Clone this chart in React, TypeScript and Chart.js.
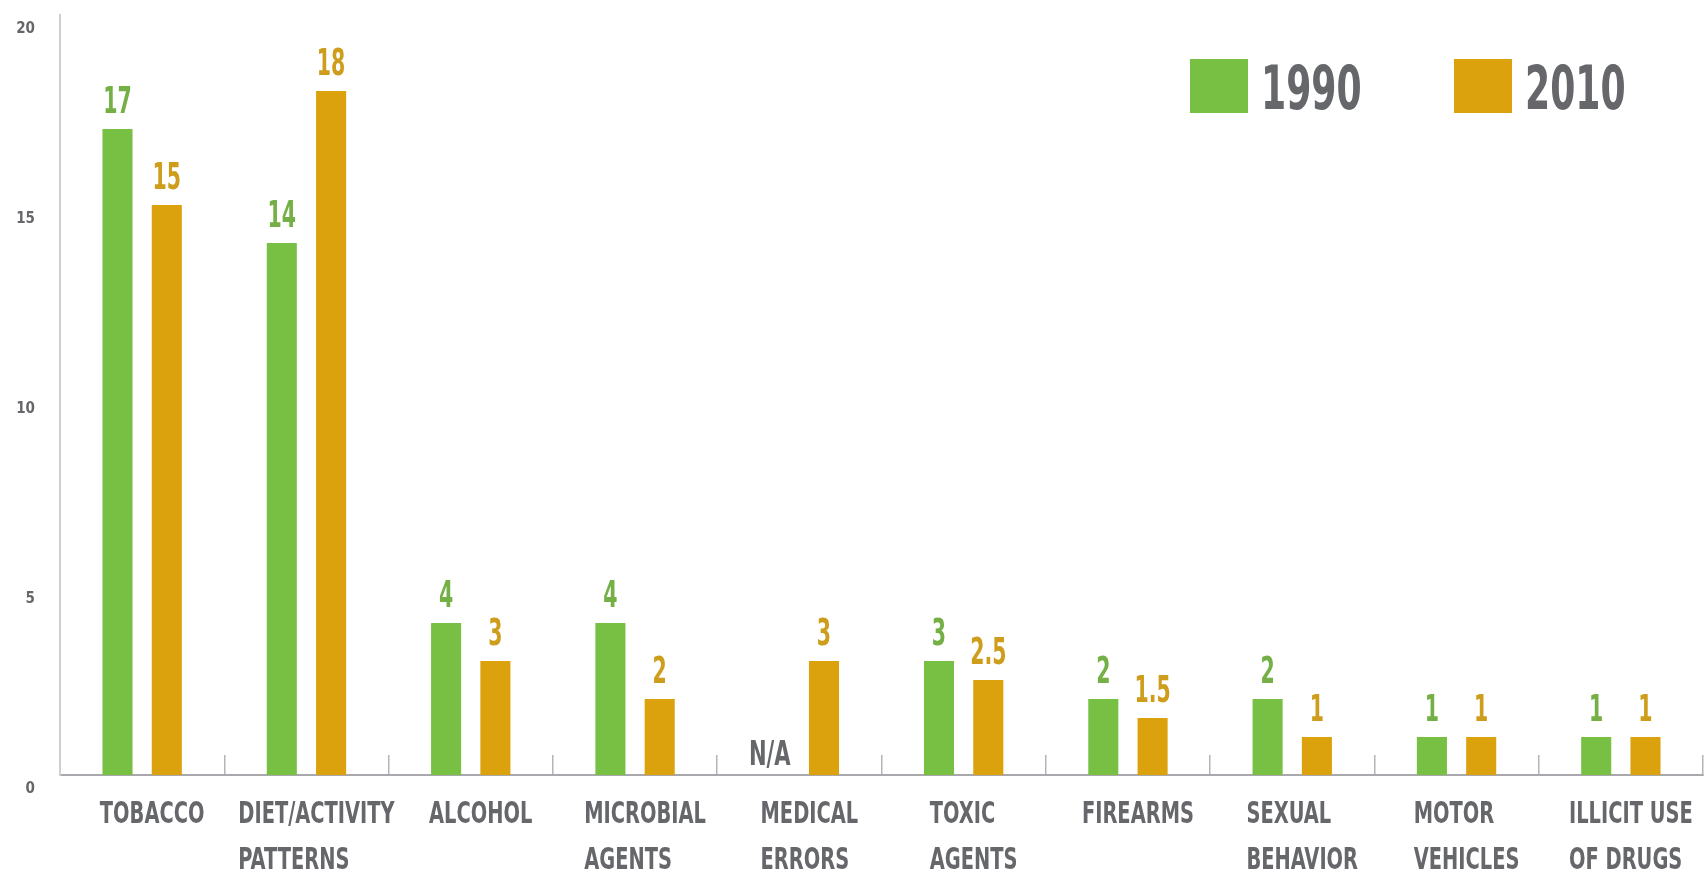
import React, { useEffect, useRef } from 'react';
import { Chart, registerables } from 'chart.js';

Chart.register(...registerables);

// ---- data ----
const categories: string[][] = [
  ['TOBACCO'],
  ['DIET/ACTIVITY', 'PATTERNS'],
  ['ALCOHOL'],
  ['MICROBIAL', 'AGENTS'],
  ['MEDICAL', 'ERRORS'],
  ['TOXIC', 'AGENTS'],
  ['FIREARMS'],
  ['SEXUAL', 'BEHAVIOR'],
  ['MOTOR', 'VEHICLES'],
  ['ILLICIT USE', 'OF DRUGS'],
];
const series1990: (number | null)[] = [17, 14, 4, 4, null, 3, 2, 2, 1, 1];
const series2010: (number | null)[] = [15, 18, 3, 2, 3, 2.5, 1.5, 1, 1, 1];
const seriesNames = ['1990', '2010'];
const valueText1990 = ['17', '14', '4', '4', 'N/A', '3', '2', '2', '1', '1'];
const valueText2010 = ['15', '18', '3', '2', '3', '2.5', '1.5', '1', '1', '1'];
const yMin = 0;
const yMax = 20;
const yStep = 5;

// ---- styles ----
const FONT = "'DejaVu Sans Condensed', 'DejaVu Sans', sans-serif";
const GREEN = '#78c043';
const GOLD = '#dca20e';
const GREEN_TEXT = '#74b045';
const GOLD_TEXT = '#cf9d1c';
const GRAY_TEXT = '#66676b';

function drawCondensed(ctx: any, text: string, x: number, y: number, font: string, color: string, sx: number, align: string) {
  ctx.save();
  ctx.font = font;
  ctx.fillStyle = color;
  ctx.textAlign = align;
  ctx.textBaseline = 'alphabetic';
  ctx.translate(x, y);
  ctx.scale(sx, 1);
  ctx.fillText(text, 0, 0);
  ctx.restore();
}

const valueLabelPlugin = {
  id: 'valueLabelPlugin',
  afterDatasetsDraw(chart: any) {
    const ctx = chart.ctx;
    const yScale = chart.scales.y;
    const texts = [valueText1990, valueText2010];
    const colors = [GREEN_TEXT, GOLD_TEXT];
    chart.data.datasets.forEach((ds: any, di: number) => {
      const meta = chart.getDatasetMeta(di);
      meta.data.forEach((bar: any, i: number) => {
        const v = ds.data[i];
        const txt = texts[di][i];
        if (v == null) {
          drawCondensed(ctx, txt, bar.x - 5, yScale.getPixelForValue(0) - 10, `bold 33px ${FONT}`, GRAY_TEXT, 0.71, 'center');
        } else {
          drawCondensed(ctx, txt, bar.x, bar.y - 16, `bold 38px ${FONT}`, colors[di], 0.6, 'center');
        }
      });
    });
  },
};

const X_SCALE_X = 0.72;
const X_FONT = `bold 30px ${FONT}`;

const xLabelPlugin = {
  id: 'xLabelPlugin',
  afterDraw(chart: any) {
    const ctx = chart.ctx;
    const xs = chart.scales.x;
    const axisY = chart.chartArea.bottom;
    ctx.save();
    ctx.font = X_FONT;
    categories.forEach((lines, i) => {
      const cx = xs.getPixelForValue(i);
      const blockW = Math.max(...lines.map((l) => ctx.measureText(l).width)) * X_SCALE_X;
      const left = cx - blockW / 2 + 10;
      lines.forEach((line, li) => {
        drawCondensed(ctx, line, left, axisY + 48 + li * 46, X_FONT, GRAY_TEXT, X_SCALE_X, 'left');
      });
    });
    ctx.restore();
  },
};

const legendPlugin = {
  id: 'customLegend',
  afterDraw(chart: any) {
    const ctx = chart.ctx;
    const startX = chart.width - 514;
    const boxTop = 59;
    const boxW = 58;
    const boxH = 54;
    const xs = [startX, startX + 264];
    chart.data.datasets.forEach((ds: any, di: number) => {
      const x = xs[di];
      ctx.save();
      ctx.fillStyle = ds.backgroundColor;
      ctx.fillRect(x, boxTop, boxW, boxH);
      ctx.restore();
      drawCondensed(ctx, ds.label, x + boxW + 13, boxTop + 50, `bold 60px ${FONT}`, GRAY_TEXT, 0.67, 'left');
    });
  },
};

export default function App() {
  const canvasRef = useRef<HTMLCanvasElement | null>(null);

  useEffect(() => {
    document.body.style.margin = '0';
    document.body.style.overflow = 'hidden';
    const canvas = canvasRef.current;
    if (!canvas) return;
    const chart = new Chart(canvas, {
      type: 'bar',
      data: {
        labels: categories,
        datasets: [
          {
            label: seriesNames[0],
            data: series1990,
            backgroundColor: GREEN,
            categoryPercentage: 0.6,
            barPercentage: 0.61,
          },
          {
            label: seriesNames[1],
            data: series2010,
            backgroundColor: GOLD,
            categoryPercentage: 0.6,
            barPercentage: 0.61,
          },
        ],
      },
      options: {
        responsive: false,
        animation: false,
        layout: { padding: { top: 15, right: 1, left: 0, bottom: 0 } },
        plugins: {
          legend: { display: false },
          tooltip: { enabled: false },
        },
        scales: {
          x: {
            grid: {
              drawOnChartArea: false,
              drawTicks: true,
              tickLength: -20,
              color: '#b5b5b8',
              lineWidth: 1.5,
              offset: true,
            },
            border: { display: true, color: '#a9a9ad', width: 2 },
            ticks: { display: false, autoSkip: false, maxRotation: 0 },
            afterFit(scale: any) {
              scale.height = 96;
              scale.paddingLeft = 0;
              scale.paddingRight = 0;
            },
          },
          y: {
            min: yMin,
            max: yMax,
            grid: { display: false, drawTicks: false },
            border: { display: true, color: '#cfcfd2', width: 2 },
            ticks: {
              stepSize: yStep,
              color: GRAY_TEXT,
              font: { family: FONT, size: 15, weight: 'bold' },
              padding: 25,
              labelOffset: 14,
            },
            afterFit(scale: any) {
              scale.width = 60;
              scale.paddingTop = 0;
              scale.paddingBottom = 0;
            },
          },
        },
      },
      plugins: [valueLabelPlugin, xLabelPlugin, legendPlugin],
    });
    return () => chart.destroy();
  }, []);

  return (
    <div style={{ width: 1704, height: 871, overflow: 'hidden', background: '#ffffff' }}>
      <canvas ref={canvasRef} width={1704} height={871} style={{ display: 'block' }} />
    </div>
  );
}
